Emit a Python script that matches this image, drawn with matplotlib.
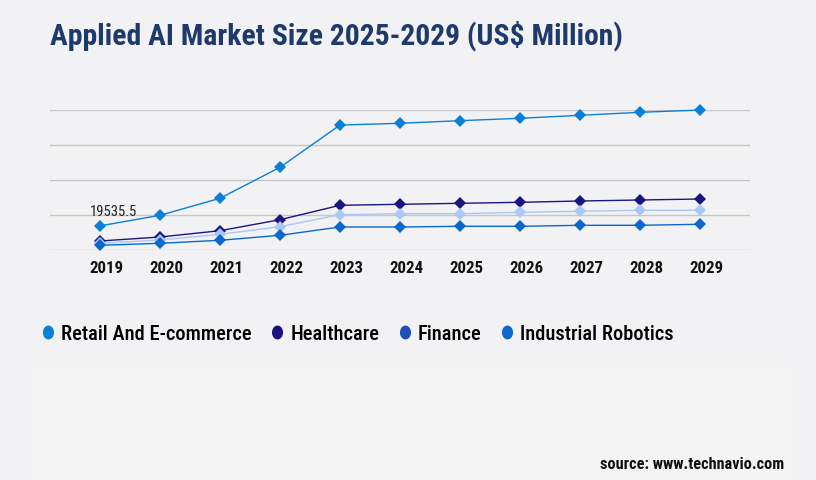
import os
import matplotlib
matplotlib.use("Agg")
import matplotlib.pyplot as plt
from matplotlib import font_manager
from matplotlib.font_manager import FontProperties
from matplotlib.lines import Line2D
from matplotlib.patches import Rectangle
from matplotlib.path import Path
from matplotlib.transforms import Affine2D, ScaledTranslation

# DATA
years = [2019, 2020, 2021, 2022, 2023, 2024, 2025, 2026, 2027, 2028, 2029]
retail = [19535.5, 28000, 41600, 66400, 100200, 101600, 103700, 105600, 108000, 110400, 112200]
healthcare = [7440, 10640, 15680, 24480, 36000, 36800, 37600, 38400, 39440, 40240, 41040]
finance = [5600, 8240, 12800, 18880, 28480, 29280, 29280, 30400, 31200, 32000, 32000]
robotics = [4000, 5600, 8000, 12000, 18640, 18640, 19200, 19200, 20000, 20000, 20800]
series_names = ["Retail And E-commerce", "Healthcare", "Finance", "Industrial Robotics"]
grid_vals = [0, 28000, 56000, 84000, 112000]

title = "Applied AI Market Size 2025-2029 (US$ Million)"
source = "source: www.technavio.com"


# look for a condensed face, fall back to Roboto
def find_font(files, family, weight):
    for f in font_manager.fontManager.ttflist:
        if os.path.basename(f.fname) in files:
            return FontProperties(fname=f.fname), True
    return FontProperties(family=family, weight=weight), False

f_bold, cond = find_font(["RobotoCondensed-Bold.ttf", "NotoSans-CondensedBold.ttf",
                          "LiberationSansNarrow-Bold.ttf"], "Roboto", "bold")
f_med, _ = find_font(["RobotoCondensed-Medium.ttf", "NotoSans-CondensedMedium.ttf",
                      "LiberationSansNarrow-Regular.ttf"], "Roboto", "medium")
f_reg, _ = find_font(["RobotoCondensed-Regular.ttf", "NotoSans-CondensedLight.ttf",
                      "NotoSans-Condensed.ttf", "LiberationSansNarrow-Regular.ttf"],
                     "Roboto", "normal")


def fp(base, size):
    p = base.copy()
    p.set_size(size)
    return p


k = 1.0 if cond else 0.86

BG = "#f2f2f4"
line_cols = ["#0a7fd6", "#1a1680", "#a9c8f5", "#0a68cc"]
legend_cols = ["#0a7fd6", "#1a1180", "#1f4fb5", "#0a68cc"]

fig = plt.figure(figsize=(8.16, 4.8), dpi=100)
fig.patch.set_facecolor(BG)
fig.patches.append(Rectangle((30 / 816, 0), 760 / 816, 118 / 480,
                             transform=fig.transFigure, color="#f3f3f4", zorder=0))

ax = fig.add_axes([50 / 816, 1 - 250.3 / 480, 700 / 816, 140 / 480])
ax.set_facecolor("none")
for s in ax.spines.values():
    s.set_visible(False)

# draw order: healthcare, finance, robotics, retail
order = [(healthcare, 1), (finance, 2), (robotics, 3), (retail, 0)]
for vals, i in order:
    ax.plot(years, vals, color=line_cols[i], lw=1, marker="D", markersize=6.5,
            markeredgewidth=0, clip_on=False, zorder=3)

ax.annotate(f"{retail[0]}", (years[0], retail[0]), xytext=(-10, 10),
            textcoords="offset pixels", ha="left", va="baseline",
            fontproperties=fp(f_reg, 10.5 * k), color="#222222")

ax.set_xlim(2018.1667, 2029.8333)
ax.set_ylim(grid_vals[0], grid_vals[-1])
ax.set_yticks(grid_vals)
ax.set_yticklabels([])
ax.yaxis.grid(True, color="#c6c6c6", lw=1)
ax.set_axisbelow(True)
ax.set_xticks(years)
ax.set_xticklabels([str(y) for y in years], fontproperties=fp(f_bold, 12.2 * k),
                   color="#111111")
ax.tick_params(length=0, pad=8)
# year labels sit a little right of their points
shift = ScaledTranslation(6.5 / 100, 0, fig.dpi_scale_trans)
for lab in ax.get_xticklabels():
    lab.set_transform(lab.get_transform() + shift)

fig.text(50 / 816, 1 - 44 / 480, title, fontproperties=fp(f_bold, 21.3 * k),
         color="#1e3a6a", ha="left", va="baseline")
fig.text(784 / 816, 1 - 469 / 480, source, fontproperties=fp(f_bold, 11.7 * k),
         color="#111111", ha="right", va="baseline")

# legend with oval markers
oval = Path.unit_circle().transformed(Affine2D().scale(0.8, 1.0))
handles = [Line2D([], [], ls="none", marker=oval, markersize=10,
                  markerfacecolor=c, markeredgewidth=0) for c in legend_cols]
fig.legend(handles, series_names, loc="center left",
           bbox_to_anchor=(22 / 816, 1 - 334 / 480), ncol=4, frameon=False,
           handlelength=0.7, handletextpad=0.3, columnspacing=0.88,
           prop=fp(f_med, 14.8 * k))

fig.savefig("out.png", dpi=100, facecolor=BG)
